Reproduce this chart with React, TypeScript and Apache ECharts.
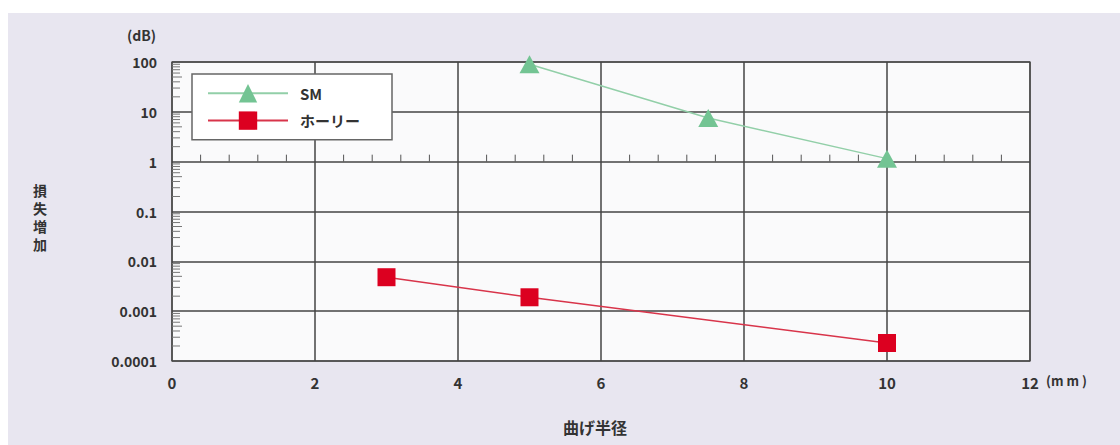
import React, { useEffect, useRef } from "react";
import * as echarts from "echarts";

const xTicks = [0, 2, 4, 6, 8, 10, 12];
const yDecades = [0.0001, 0.001, 0.01, 0.1, 1, 10, 100];
const yTickLabels = ["0.0001", "0.001", "0.01", "0.1", "1", "10", "100"];
const smX = [5, 7.5, 10];
const smY = [90, 7.5, 1.15];
const holeyX = [3, 5, 10];
const holeyY = [0.0048, 0.0019, 0.00023];
const seriesNames = ["SM", "ホーリー"];
const xMinorStep = 0.4;

const FONT = "'Noto Sans CJK JP', 'Noto Sans', sans-serif";

export default function App() {
  const ref = useRef<HTMLDivElement>(null);
  useEffect(() => {
    if (!ref.current) return;
    const chart = echarts.init(ref.current, null, { renderer: "svg" });

    const yMinor: number[][] = [];
    for (let d = 0; d < yDecades.length - 1; d++) {
      for (let m = 2; m <= 9; m++) yMinor.push([0, yDecades[d] * m, m]);
    }
    const xMinor: number[][] = [];
    for (let i = 1; i * xMinorStep < 12 - 1e-6; i++) {
      const v = +(i * xMinorStep).toFixed(2);
      if (Math.abs(v / 2 - Math.round(v / 2)) > 1e-6) xMinor.push([v, 1]);
    }

    chart.setOption({
      animation: false,
      backgroundColor: "#ffffff",
      textStyle: { fontFamily: FONT },
      graphic: [
        {
          type: "rect",
          z: -10,
          silent: true,
          shape: { x: 8, y: 13, width: 1112, height: 432 },
          style: { fill: "#e8e6f0" },
        },
        {
          type: "text",
          left: 127,
          top: 28,
          style: { text: "(dB)", font: "bold 14px " + FONT, fill: "#333" },
        },
        {
          type: "text",
          left: 33,
          top: 181,
          style: {
            text: "損\n失\n増\n加",
            font: "bold 14px " + FONT,
            fill: "#333",
            lineHeight: 18,
          },
        },
        {
          type: "text",
          left: 563,
          top: 419,
          style: { text: "曲げ半径", font: "bold 16px " + FONT, fill: "#333" },
        },
        {
          type: "text",
          left: 1046,
          top: 374,
          style: { text: "(m m )", font: "bold 13px " + FONT, fill: "#333" },
        },
      ],
      grid: {
        left: 172,
        top: 62,
        width: 858,
        height: 299,
        show: true,
        backgroundColor: "#fafafb",
        borderColor: "#777",
        borderWidth: 1.5,
      },
      legend: {
        data: seriesNames.map((n) => ({ name: n })),
        orient: "vertical",
        left: 192,
        top: 74,
        padding: [10, 32, 10, 15],
        itemGap: 9,
        itemWidth: 80,
        itemHeight: 23,
        backgroundColor: "#ffffff",
        borderColor: "#666",
        borderWidth: 1.5,
        textStyle: { fontSize: 15, fontWeight: "bold", color: "#333", fontFamily: FONT, padding: [0, 0, 0, 7] },
      },
      xAxis: {
        type: "value",
        min: 0,
        max: 12,
        interval: 2,
        axisLine: { show: false },
        axisTick: { show: false },
        splitLine: { show: true, lineStyle: { color: "#444", width: 1.5 } },
        axisLabel: {
          margin: 14,
          fontSize: 15,
          fontWeight: "bold",
          color: "#333",
          fontFamily: FONT,
          formatter: (v: number) => {
            const i = xTicks.indexOf(v);
            return i >= 0 ? String(xTicks[i]) : "";
          },
        },
      },
      yAxis: {
        type: "log",
        logBase: 10,
        min: 0.0001,
        max: 100,
        axisLine: { show: false },
        axisTick: { show: false },
        minorTick: { show: false },
        splitLine: { show: true, lineStyle: { color: "#444", width: 1.5 } },
        axisLabel: {
          margin: 15,
          fontSize: 14,
          fontWeight: "bold",
          color: "#333",
          fontFamily: FONT,
          formatter: (v: number) => {
            let best = 0;
            for (let i = 0; i < yDecades.length; i++) {
              if (Math.abs(Math.log10(yDecades[i]) - Math.log10(v)) < Math.abs(Math.log10(yDecades[best]) - Math.log10(v))) best = i;
            }
            return yTickLabels[best];
          },
        },
      },
      series: [
        {
          name: "yMinor",
          type: "custom",
          silent: true,
          z: 3,
          data: yMinor,
          encode: { x: 0, y: 1 },
          renderItem: (params: any, api: any) => {
            const p = api.coord([0, api.value(1)]);
            const len = api.value(2) === 5 ? 10 : 8;
            return {
              type: "line",
              shape: { x1: p[0], y1: p[1], x2: p[0] + len, y2: p[1] },
              style: { stroke: "#777", lineWidth: 1 },
            };
          },
        },
        {
          name: "xMinor",
          type: "custom",
          silent: true,
          z: 3,
          data: xMinor,
          encode: { x: 0, y: 1 },
          renderItem: (params: any, api: any) => {
            const p = api.coord([api.value(0), api.value(1)]);
            return {
              type: "line",
              shape: { x1: p[0], y1: p[1], x2: p[0], y2: p[1] - 7 },
              style: { stroke: "#555", lineWidth: 1 },
            };
          },
        },
        {
          name: seriesNames[0],
          type: "line",
          z: 5,
          data: smX.map((x, i) => [x, smY[i]]),
          symbol: "triangle",
          symbolSize: [20, 18],
          itemStyle: { color: "#73c493" },
          lineStyle: { color: "#92cfa8", width: 1.5 },
        },
        {
          name: seriesNames[1],
          type: "line",
          z: 5,
          data: holeyX.map((x, i) => [x, holeyY[i]]),
          symbol: "rect",
          symbolSize: 18,
          itemStyle: { color: "#dc0020" },
          lineStyle: { color: "#d8344a", width: 1.5 },
        },
      ],
    });
    return () => chart.dispose();
  }, []);
  return (
    <div
      ref={ref}
      style={{ position: "fixed", left: 0, top: 0, width: 1120, height: 445 }}
    />
  );
}
